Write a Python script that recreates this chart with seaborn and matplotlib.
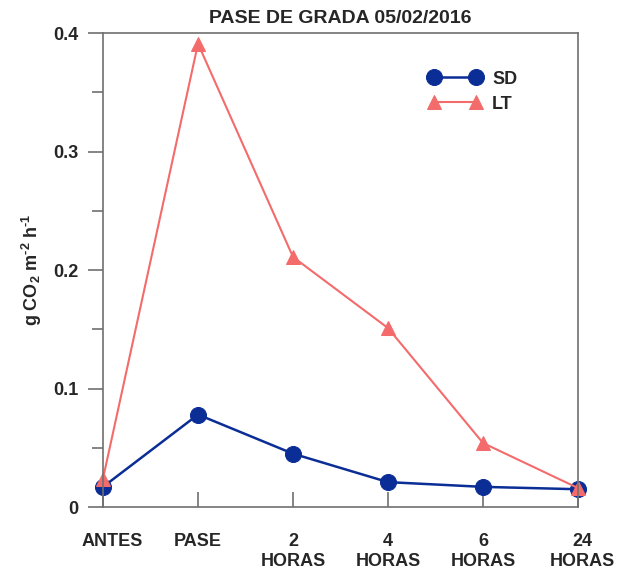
import pandas as pd
import matplotlib.pyplot as plt
import matplotlib.transforms as mtransforms
import seaborn as sns

# Datos
momentos = ["ANTES", "PASE", "2\nHORAS", "4\nHORAS", "6\nHORAS", "24\nHORAS"]
sd = [0.017, 0.078, 0.045, 0.021, 0.017, 0.015]
lt = [0.024, 0.391, 0.211, 0.151, 0.054, 0.016]
y_ticks = [0, 0.1, 0.2, 0.3, 0.4]
y_labels = ["0", "0.1", "0.2", "0.3", "0.4"]

sns.set_style("white")
plt.rcParams['font.family'] = ['Liberation Sans', 'DejaVu Sans']
plt.rcParams['font.weight'] = 'bold'
plt.rcParams['mathtext.fontset'] = 'custom'
plt.rcParams['mathtext.rm'] = 'Liberation Sans:bold'
plt.rcParams['mathtext.it'] = 'Liberation Sans:bold'
plt.rcParams['mathtext.bf'] = 'Liberation Sans:bold'

fig = plt.figure(figsize=(6.19, 5.74), dpi=100)
ax = fig.add_axes([0.1664, 0.1167, 0.7674, 0.8258])

df_sd = pd.DataFrame({"momento": momentos, "flujo": sd})
df_lt = pd.DataFrame({"momento": momentos, "flujo": lt})

sns.lineplot(data=df_sd, x="momento", y="flujo", color="#0A2D96", marker="o",
             markersize=11.5, markeredgecolor="#0A2D96", linewidth=1.8,
             sort=False, label="SD", ax=ax, clip_on=False)
sns.lineplot(data=df_lt, x="momento", y="flujo", color="#F36B6B", marker="^",
             markersize=9.5, markeredgecolor="#F36B6B", linewidth=1.5,
             sort=False, label="LT", ax=ax, clip_on=False)

ax.set_xlim(0, 5)
ax.set_ylim(0, 0.4)
ax.set_yticks(y_ticks, y_labels)
ax.set_yticks([0.05, 0.15, 0.25, 0.35], minor=True)

for s in ax.spines.values():
    s.set_color("#707070")
    s.set_linewidth(1.2)

ax.tick_params(axis="y", which="major", direction="out", length=11, width=1.2,
               color="#707070", pad=7, labelsize=13, left=True)
ax.tick_params(axis="y", which="minor", direction="out", length=8, width=1.2,
               color="#707070", left=True)
ax.tick_params(axis="x", direction="in", length=11, width=1.2,
               color="#707070", pad=19, labelsize=13, bottom=True)

# etiquetas de los extremos algo desplazadas hacia la derecha, como en el original
xlabs = ax.get_xticklabels()
xlabs[0].set_transform(xlabs[0].get_transform() + mtransforms.ScaledTranslation(9 / 100, 0, fig.dpi_scale_trans))
xlabs[-1].set_transform(xlabs[-1].get_transform() + mtransforms.ScaledTranslation(4 / 100, 0, fig.dpi_scale_trans))

ax.set_xlabel("")
ax.set_ylabel(r"g CO$_\mathrm{2}$ m$^{\mathrm{\text{-}2}}$ h$^{\mathrm{\text{-}1}}$", fontsize=13,
              fontweight="bold", labelpad=6)
ax.set_title("PASE DE GRADA 05/02/2016", fontsize=14, fontweight="bold", pad=7)

ax.legend(loc="upper left", bbox_to_anchor=(0.652, 0.955), frameon=False,
          numpoints=2, handlelength=2.9, fontsize=13, labelspacing=0.45,
          handletextpad=0.6)

fig.savefig("out.png", dpi=100)
